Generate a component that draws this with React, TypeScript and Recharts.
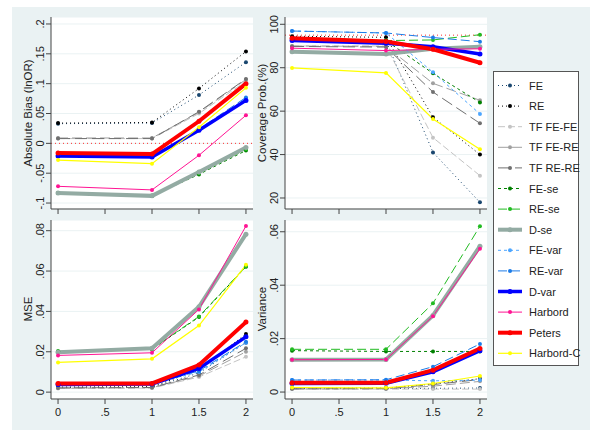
import { LineChart, Line, XAxis, YAxis, CartesianGrid, ReferenceLine } from "recharts";

const X_VALUES = [0, 1, 1.5, 2];
const X_TICKS = [0, 0.5, 1, 1.5, 2];
const X_TICK_LABELS = ["0", ".5", "1", "1.5", "2"];

const SERIES_NAMES = [
  "FE", "RE", "TF FE-FE", "TF FE-RE", "TF RE-RE", "FE-se", "RE-se",
  "D-se", "FE-var", "RE-var", "D-var", "Harbord", "Peters", "Harbord-C",
];

// rows follow SERIES_NAMES, columns follow X_VALUES
const BIAS = [
  [0.033, 0.034, 0.081, 0.136],
  [0.034, 0.035, 0.092, 0.154],
  [0.008, 0.008, 0.05, 0.104],
  [0.009, 0.009, 0.052, 0.107],
  [0.008, 0.008, 0.053, 0.108],
  [-0.083, -0.088, -0.052, -0.012],
  [-0.083, -0.088, -0.05, -0.01],
  [-0.083, -0.088, -0.048, -0.007],
  [-0.02, -0.022, 0.023, 0.075],
  [-0.02, -0.022, 0.024, 0.077],
  [-0.021, -0.023, 0.022, 0.072],
  [-0.072, -0.078, -0.02, 0.047],
  [-0.016, -0.018, 0.037, 0.1],
  [-0.028, -0.034, 0.027, 0.093],
];

const COVERAGE = [
  [93.5, 92.5, 41.0, 18.0],
  [94.5, 94.0, 57.2, 40.0],
  [90.0, 90.0, 47.8, 30.3],
  [90.0, 89.8, 72.8, 65.0],
  [89.8, 89.5, 68.8, 54.4],
  [93.0, 92.5, 77.4, 64.0],
  [93.0, 92.5, 92.8, 95.2],
  [87.4, 86.3, 88.7, 89.7],
  [96.9, 96.0, 77.9, 58.7],
  [96.9, 96.0, 93.9, 92.0],
  [92.5, 91.3, 89.7, 86.3],
  [89.0, 87.9, 88.5, 88.7],
  [93.6, 92.1, 88.5, 82.3],
  [79.9, 77.6, 56.4, 42.4],
];

const MSE = [
  [0.0022, 0.0024, 0.0095, 0.0245],
  [0.0025, 0.0027, 0.011, 0.0288],
  [0.0018, 0.002, 0.0075, 0.0175],
  [0.002, 0.0022, 0.008, 0.02],
  [0.0021, 0.0023, 0.0085, 0.0217],
  [0.0202, 0.0213, 0.0372, 0.0621],
  [0.0202, 0.0214, 0.0375, 0.0623],
  [0.0198, 0.0217, 0.0423, 0.0783],
  [0.004, 0.0042, 0.01, 0.0245],
  [0.004, 0.0042, 0.0105, 0.025],
  [0.0038, 0.004, 0.0117, 0.0274],
  [0.0182, 0.0195, 0.041, 0.0823],
  [0.0043, 0.0043, 0.0134, 0.0347],
  [0.0147, 0.0165, 0.033, 0.0631],
];

const VARIANCE = [
  [0.0013, 0.0013, 0.0014, 0.0015],
  [0.0014, 0.0015, 0.003, 0.005],
  [0.0011, 0.0011, 0.0011, 0.0011],
  [0.0012, 0.0012, 0.0022, 0.004],
  [0.0012, 0.0013, 0.0028, 0.0047],
  [0.0155, 0.0152, 0.0152, 0.0152],
  [0.016, 0.016, 0.0332, 0.0621],
  [0.0121, 0.0122, 0.0287, 0.0546],
  [0.0045, 0.0045, 0.0042, 0.0045],
  [0.0045, 0.0046, 0.0095, 0.018],
  [0.0032, 0.0033, 0.0076, 0.0155],
  [0.0121, 0.0122, 0.0284, 0.0536],
  [0.0035, 0.0035, 0.0082, 0.0163],
  [0.0017, 0.0016, 0.0032, 0.006],
];

const BIAS_TICKS = [-0.1, -0.05, 0, 0.05, 0.1, 0.15, 0.2];
const BIAS_TICK_LABELS = ["-.1", "-.05", "0", ".05", ".1", ".15", ".2"];
const COVERAGE_TICKS = [20, 40, 60, 80, 100];
const COVERAGE_TICK_LABELS = ["20", "40", "60", "80", "100"];
const MSE_TICKS = [0, 0.02, 0.04, 0.06, 0.08];
const MSE_TICK_LABELS = ["0", ".02", ".04", ".06", ".08"];
const VARIANCE_TICKS = [0, 0.02, 0.04, 0.06];
const VARIANCE_TICK_LABELS = ["0", ".02", ".04", ".06"];

const STYLES = [
  { color: "#1a476f", width: 1, dash: "1 3" },
  { color: "#000000", width: 1, dash: "1 3" },
  { color: "#c4c4c4", width: 1, dash: "7 3" },
  { color: "#a0a0a0", width: 1, dash: "10 4" },
  { color: "#707070", width: 1, dash: "12 5" },
  { color: "#008000", width: 1, dash: "3 3" },
  { color: "#22bb22", width: 1, dash: "9 4" },
  { color: "#93aba3", width: 4, dash: undefined },
  { color: "#4da6ff", width: 1, dash: "3 3" },
  { color: "#1c7ce8", width: 1, dash: "9 4" },
  { color: "#0000ff", width: 3.5, dash: undefined },
  { color: "#ff1493", width: 1, dash: undefined },
  { color: "#ff0000", width: 4, dash: undefined },
  { color: "#ffff00", width: 1.2, dash: undefined },
];

const FONT = "'Liberation Sans', Arial, sans-serif";
const TEXT = "#222";
const AXIS = "#444";

function toRows(values: number[][]) {
  return X_VALUES.map((x, i) => {
    const row: Record<string, number> = { x };
    SERIES_NAMES.forEach((name, s) => {
      row[name] = values[s][i];
    });
    return row;
  });
}

interface PanelProps {
  left: number;
  top: number;
  plotH: number;
  values: number[][];
  domain: [number, number];
  ticks: number[];
  tickLabels: string[];
  showX: boolean;
  refY?: number;
}

function Panel({ left, top, plotH, values, domain, ticks, tickLabels, showX, refY }: PanelProps) {
  const plotW = 202;
  const width = 51 + plotW + 10;
  const height = 17 + plotH + 30;
  const bottom = 17 + plotH;

  const yTick = (p: any) => {
    const y = p.payload.coordinate;
    const i = ticks.indexOf(p.payload.value);
    return (
      <text
        x={40}
        y={y}
        transform={`rotate(-90, 40, ${y})`}
        textAnchor="middle"
        dominantBaseline="central"
        fontSize={11}
        fontFamily={FONT}
        fill={TEXT}
      >
        {tickLabels[i]}
      </text>
    );
  };

  const xTick = (p: any) => {
    if (!showX) return <g />;
    const i = X_TICKS.indexOf(p.payload.value);
    return (
      <text
        x={p.payload.coordinate}
        y={bottom + 13}
        textAnchor="middle"
        dominantBaseline="central"
        fontSize={11}
        fontFamily={FONT}
        fill={TEXT}
      >
        {X_TICK_LABELS[i]}
      </text>
    );
  };

  return (
    <div style={{ position: "absolute", left: left - 51, top: top - 17 }}>
      <LineChart
        width={width}
        height={height}
        data={toRows(values)}
        margin={{ top: 17, right: 10, bottom: 0, left: 11 }}
      >
        <CartesianGrid vertical={false} stroke="#eaf2f3" fill="#ffffff" />
        <XAxis
          type="number"
          dataKey="x"
          domain={[-0.075, 2.075]}
          ticks={X_TICKS}
          interval={0}
          allowDataOverflow
          height={30}
          stroke={AXIS}
          tickSize={5}
          tick={xTick}
        />
        <YAxis
          type="number"
          domain={domain}
          ticks={ticks}
          interval={0}
          allowDataOverflow
          width={40}
          stroke={AXIS}
          tickSize={5}
          tick={yTick}
        />
        {refY !== undefined && (
          <ReferenceLine y={refY} stroke="#ff3030" strokeDasharray="1 3" strokeWidth={1} />
        )}
        {SERIES_NAMES.map((name, s) => (
          <Line
            key={name}
            type="linear"
            dataKey={name}
            stroke={STYLES[s].color}
            strokeWidth={STYLES[s].width}
            strokeDasharray={STYLES[s].dash}
            dot={{ r: STYLES[s].width > 2 ? 2.5 : 2, fill: STYLES[s].color, stroke: "none", strokeWidth: 0, strokeDasharray: "" }}
            activeDot={false}
            isAnimationActive={false}
          />
        ))}
      </LineChart>
    </div>
  );
}

function Overlay() {
  const titles = [
    { text: "Absolute Bias (lnOR)", x: 28, y: 113 },
    { text: "Coverage Prob.(%)", x: 262, y: 113 },
    { text: "MSE", x: 28, y: 309 },
    { text: "Variance", x: 262, y: 309 },
  ];
  return (
    <svg
      width={600}
      height={436}
      style={{ position: "absolute", left: 0, top: 0, pointerEvents: "none" }}
    >
      {titles.map((t) => (
        <text
          key={t.text}
          x={t.x}
          y={t.y}
          transform={`rotate(-90, ${t.x}, ${t.y})`}
          textAnchor="middle"
          dominantBaseline="central"
          fontSize={11.5}
          fontFamily={FONT}
          fill={TEXT}
        >
          {t.text}
        </text>
      ))}
      <rect x={493.5} y={71.5} width={85} height={294} fill="#ffffff" stroke="#555" strokeWidth={1} />
      {SERIES_NAMES.map((name, s) => {
        const y = 85.5 + s * 20.6;
        const st = STYLES[s];
        return (
          <g key={name}>
            <line
              x1={498}
              x2={522}
              y1={y}
              y2={y}
              stroke={st.color}
              strokeWidth={st.width}
              strokeDasharray={st.dash}
            />
            <circle cx={510} cy={y} r={st.width > 2 ? 2.5 : 2} fill={st.color} />
            <text
              x={529}
              y={y}
              dominantBaseline="central"
              fontSize={11}
              fontFamily={FONT}
              fill={TEXT}
            >
              {name}
            </text>
          </g>
        );
      })}
    </svg>
  );
}

export default function App() {
  return (
    <div style={{ position: "absolute", left: 0, top: 0, width: 600, height: 436, background: "#ffffff" }}>
      <div style={{ position: "absolute", left: 12, top: 7, width: 578, height: 423, background: "#eaf2f3" }} />
      <Panel
        left={51}
        top={17}
        plotH={192}
        values={BIAS}
        domain={[-0.11, 0.2117]}
        ticks={BIAS_TICKS}
        tickLabels={BIAS_TICK_LABELS}
        showX={false}
        refY={0}
      />
      <Panel
        left={285}
        top={17}
        plotH={192}
        values={COVERAGE}
        domain={[14.93, 103.36]}
        ticks={COVERAGE_TICKS}
        tickLabels={COVERAGE_TICK_LABELS}
        showX={false}
        refY={95}
      />
      <Panel
        left={51}
        top={220}
        plotH={179}
        values={MSE}
        domain={[-0.0034, 0.0853]}
        ticks={MSE_TICKS}
        tickLabels={MSE_TICK_LABELS}
        showX={true}
      />
      <Panel
        left={285}
        top={220}
        plotH={179}
        values={VARIANCE}
        domain={[-0.0026, 0.0644]}
        ticks={VARIANCE_TICKS}
        tickLabels={VARIANCE_TICK_LABELS}
        showX={true}
      />
      <Overlay />
    </div>
  );
}
